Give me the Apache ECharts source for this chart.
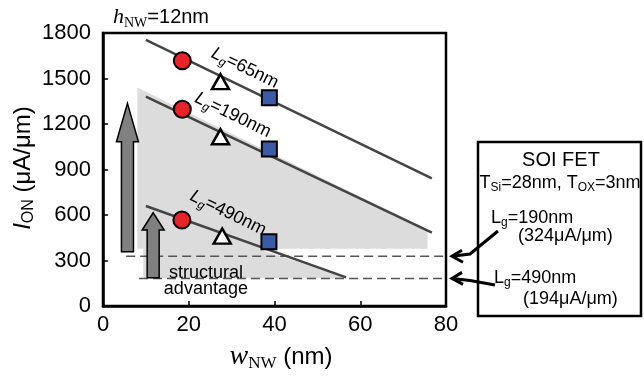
<!DOCTYPE html>
<html><head><meta charset="utf-8">
<script src="https://cdn.jsdelivr.net/npm/echarts@6/dist/echarts.min.js"></script>
<style>html,body{margin:0;padding:0;background:#fff}#c{width:644px;height:376px}</style>
</head><body><div id="c"></div>
<script>
// ---- data ----
const xTicks = [0, 20, 40, 60, 80];
const yTicks = [0, 300, 600, 900, 1200, 1500, 1800];
const gateLengths = ['65', '190', '490'];
const wCircle = [18.5, 18.5, 18.4];
const ionCircle = [1617, 1297, 567];
const wTriangle = [27.4, 27.4, 27.8];
const ionTriangle = [1479, 1116, 461];
const wSquare = [38.8, 38.8, 38.7];
const ionSquare = [1373, 1035, 424];
const fit65 = [[10, 1755], [76.7, 842]];
const fit190 = [[10, 1380], [76.7, 483]];
const fit490 = [[10, 659], [56.7, 189]];
const regionUpper = [[8, 1440], [75.7, 505], [75.7, 378], [8, 378]];
const regionLower = [[9.4, 628], [56.2, 190], [56.2, 183], [9.4, 183]];
const soiLevels = [328, 182];
const soiStartW = [5.4, 8.4];
const soiEndW = 80;
// arrows: [w, bottom, headBase, tip]
const bigArrow = [5.7, 358, 1083, 1336];
const smallArrow = [11.7, 187, 501, 615];
const lgLabelPos = [[33.1, 1569], [30.3, 1259], [29.2, 613]];
const structuralPos = [24, 165];

const FONT = 'Liberation Sans, Arial, sans-serif';
const SERIF = 'Liberation Serif, Times New Roman, serif';

const chart = echarts.init(document.getElementById('c'), null, {renderer: 'canvas'});

function polygonSeries(points, fill, z) {
  return {
    type: 'custom', silent: true, z: z, data: [[0]], clip: true,
    renderItem: (params, api) => ({
      type: 'polygon',
      shape: {points: points.map(p => api.coord(p))},
      style: {fill: fill}
    })
  };
}
function arrowSeries(a) {
  return {
    type: 'custom', silent: true, z: 3, data: [[0]],
    renderItem: (params, api) => {
      const b = api.coord([a[0], a[1]]);
      const h = api.coord([a[0], a[2]]);
      const t = api.coord([a[0], a[3]]);
      const sw = 6, hw = 11;
      return {
        type: 'polygon',
        shape: {points: [[b[0]-sw, b[1]], [b[0]+sw, b[1]], [b[0]+sw, h[1]], [b[0]+hw, h[1]], [t[0], t[1]], [b[0]-hw, h[1]], [b[0]-sw, h[1]]]},
        style: {fill: '#808080', stroke: '#000', lineWidth: 1.5}
      };
    }
  };
}
function lineSeries(data) {
  return {type: 'line', data: data, symbol: 'none', silent: true, z: 4,
    lineStyle: {color: '#444', width: 2.5}};
}
const richLabel = {
  i: {fontFamily: FONT, fontStyle: 'italic', fontSize: 18, lineHeight: 22, color: '#000'},
  s: {fontFamily: FONT, fontStyle: 'italic', fontSize: 12, lineHeight: 12, verticalAlign: 'bottom', color: '#000'},
  n: {fontFamily: FONT, fontSize: 18, lineHeight: 22, color: '#000'}
};

const series = [
  polygonSeries(regionUpper, '#dcdcdc', 1),
  polygonSeries(regionLower, '#dcdcdc', 1),
  arrowSeries(bigArrow),
  arrowSeries(smallArrow),
  lineSeries(fit65), lineSeries(fit190), lineSeries(fit490),
  {type: 'line', data: [[soiStartW[0], soiLevels[0]], [soiEndW, soiLevels[0]]], symbol: 'none', silent: true, z: 2,
    lineStyle: {color: '#555', width: 1.5, type: [9, 5]}},
  {type: 'line', data: [[soiStartW[1], soiLevels[1]], [soiEndW, soiLevels[1]]], symbol: 'none', silent: true, z: 2,
    lineStyle: {color: '#555', width: 1.5, type: [9, 5]}},
  {type: 'scatter', z: 6, symbol: 'circle', symbolSize: 17,
    itemStyle: {color: '#e8232a', borderColor: '#000', borderWidth: 2, opacity: 1},
    data: ionCircle.map((v, i) => [wCircle[i], v])},
  {type: 'scatter', z: 6, symbol: 'triangle', symbolSize: [17, 15],
    itemStyle: {color: '#fff', borderColor: '#000', borderWidth: 2.5, opacity: 1},
    data: ionTriangle.map((v, i) => [wTriangle[i], v])},
  {type: 'scatter', z: 6, symbol: 'rect', symbolSize: 15,
    itemStyle: {color: '#3b5aa8', borderColor: '#000', borderWidth: 2, opacity: 1},
    data: ionSquare.map((v, i) => [wSquare[i], v])},
  {type: 'scatter', z: 7, symbolSize: 0, silent: true, itemStyle: {opacity: 1},
    data: lgLabelPos.map((p, i) => ({value: p, name: gateLengths[i]})),
    label: {show: true, position: 'inside', rotate: -26, align: 'center', verticalAlign: 'middle', opacity: 1,
      formatter: p => '{i|L}{s|g}{n|=' + p.name + 'nm}', rich: richLabel}},
  {type: 'scatter', z: 7, symbolSize: 0, silent: true, itemStyle: {opacity: 1},
    data: [structuralPos],
    label: {show: true, position: 'inside', align: 'center', verticalAlign: 'middle', opacity: 1,
      formatter: 'structural\nadvantage', fontFamily: FONT, fontSize: 18, lineHeight: 16, color: '#000',
      textBorderWidth: 0}}
];

const option = {
  animation: false,
  backgroundColor: '#fff',
  grid: {left: 103, right: 198, top: 33, bottom: 70, show: true, borderColor: '#000', borderWidth: 2.5, backgroundColor: 'transparent'},
  xAxis: {type: 'value', min: xTicks[0], max: xTicks[xTicks.length-1], interval: xTicks[1]-xTicks[0],
    axisLine: {show: true, lineStyle: {color: '#000', width: 2.5}},
    axisTick: {show: true, inside: true, length: 5, lineStyle: {color: '#000', width: 1.5}},
    axisLabel: {fontFamily: FONT, fontSize: 22, color: '#000', margin: 8, formatter: v => String(v)},
    splitLine: {show: false}},
  yAxis: {type: 'value', min: yTicks[0], max: yTicks[yTicks.length-1], interval: yTicks[1]-yTicks[0],
    axisLine: {show: true, lineStyle: {color: '#000', width: 2.5}},
    axisTick: {show: true, inside: true, length: 5, lineStyle: {color: '#000', width: 1.5}},
    axisLabel: {fontFamily: FONT, fontSize: 22, color: '#000', margin: 12, formatter: v => String(v)},
    splitLine: {show: false}},
  series: series
};
chart.setOption(option);

const yUp = chart.convertToPixel({gridIndex: 0}, [soiEndW, soiLevels[0]])[1];
const yLo = chart.convertToPixel({gridIndex: 0}, [soiEndW, soiLevels[1]])[1];
const tipX = 452;

const boxRich = {
  n: {fontFamily: FONT, fontSize: 18, lineHeight: 22, color: '#000'},
  s: {fontFamily: FONT, fontSize: 12, lineHeight: 12, verticalAlign: 'bottom', color: '#000'}
};

chart.setOption({
  graphic: [
    // top annotation
    {type: 'text', left: 113, top: 6, z: 10, style: {
      text: '{h|h}{s|NW}{n|=12nm}', rich: {
        h: {fontFamily: SERIF, fontStyle: 'italic', fontSize: 22, lineHeight: 26, color: '#000'},
        s: {fontFamily: SERIF, fontSize: 14, lineHeight: 14, verticalAlign: 'bottom', color: '#000'},
        n: {fontFamily: FONT, fontSize: 20, lineHeight: 26, color: '#000'}
      }}},
    // y title
    {type: 'text', x: 23, y: 168, rotation: Math.PI / 2, z: 10, style: {
      text: '{i|I}{s|ON}{n| (μA/μm)}', align: 'center', verticalAlign: 'middle', rich: {
        i: {fontFamily: FONT, fontStyle: 'italic', fontSize: 24, lineHeight: 28, color: '#000'},
        s: {fontFamily: FONT, fontSize: 16, lineHeight: 16, verticalAlign: 'bottom', color: '#000'},
        n: {fontFamily: FONT, fontSize: 24, lineHeight: 28, color: '#000'}
      }}},
    // x title
    {type: 'text', x: 281, y: 357, z: 10, style: {
      text: '{w|w}{s|NW}{n| (nm)}', align: 'center', verticalAlign: 'middle', rich: {
        w: {fontFamily: SERIF, fontStyle: 'italic', fontSize: 28, lineHeight: 30, color: '#000'},
        s: {fontFamily: SERIF, fontSize: 17, lineHeight: 17, verticalAlign: 'bottom', color: '#000'},
        n: {fontFamily: FONT, fontSize: 24, lineHeight: 30, color: '#000'}
      }}},
    // SOI box
    {type: 'rect', shape: {x: 478, y: 142, width: 163, height: 174}, z: 9,
      style: {fill: '#fff', stroke: '#000', lineWidth: 2.5}},
    {type: 'text', x: 561, y: 160, z: 10, style: {text: 'SOI FET', align: 'center', verticalAlign: 'middle',
      fontFamily: FONT, fontSize: 20, fill: '#000'}},
    {type: 'text', x: 560, y: 183, z: 10, style: {text: '{n|T}{s|Si}{n|=28nm, T}{s|OX}{n|=3nm}', align: 'center', verticalAlign: 'middle', rich: boxRich}},
    {type: 'text', x: 491, y: 218, z: 10, style: {text: '{n|L}{s|g}{n|=190nm}', align: 'left', verticalAlign: 'middle', rich: boxRich}},
    {type: 'text', x: 518, y: 236, z: 10, style: {text: '(324μA/μm)', align: 'left', verticalAlign: 'middle', fontFamily: FONT, fontSize: 18, fill: '#000'}},
    {type: 'text', x: 494, y: 278, z: 10, style: {text: '{n|L}{s|g}{n|=490nm}', align: 'left', verticalAlign: 'middle', rich: boxRich}},
    {type: 'text', x: 523, y: 299, z: 10, style: {text: '(194μA/μm)', align: 'left', verticalAlign: 'middle', fontFamily: FONT, fontSize: 18, fill: '#000'}},
    // pointer arrows
    {type: 'polyline', z: 11, shape: {points: [[498, 231], [470, 254], [tipX, yUp]]}, style: {stroke: '#000', lineWidth: 3, fill: null}},
    {type: 'polyline', z: 11, shape: {points: [[462, yUp - 6], [tipX, yUp], [463, yUp + 6]]}, style: {stroke: '#000', lineWidth: 3, fill: null}},
    {type: 'polyline', z: 11, shape: {points: [[495, 285], [470, 280.5], [tipX, yLo]]}, style: {stroke: '#000', lineWidth: 3, fill: null}},
    {type: 'polyline', z: 11, shape: {points: [[462, yLo - 6], [tipX, yLo], [463, yLo + 6]]}, style: {stroke: '#000', lineWidth: 3, fill: null}}
  ]
});
</script>
</body></html>
